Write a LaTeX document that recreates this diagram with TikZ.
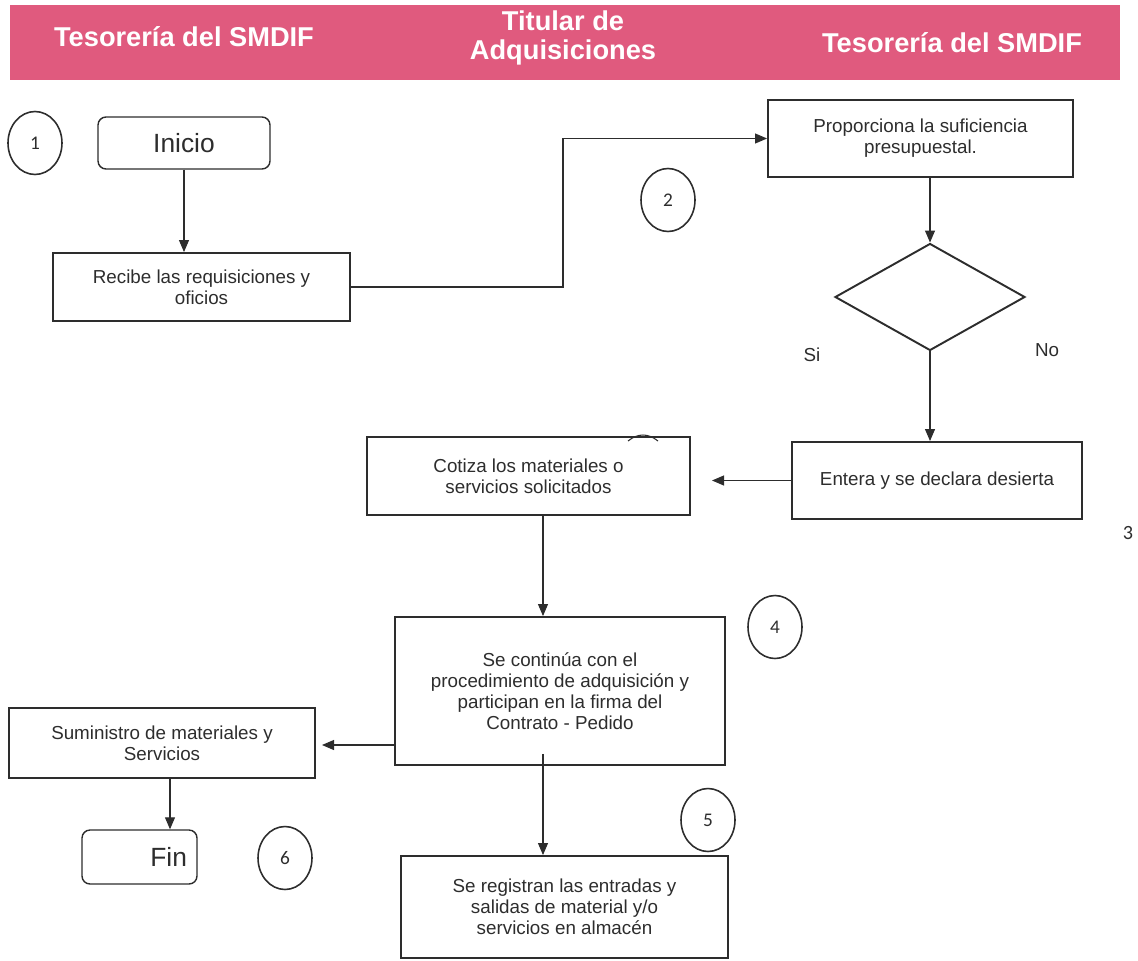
\documentclass[tikz,border=0pt]{standalone}
\usepackage{fontspec}
\setmainfont{Liberation Sans}
\newfontfamily\numfont{Carlito}
\usetikzlibrary{shapes.geometric,arrows.meta}
\definecolor{bandpink}{RGB}{224,90,126}
\definecolor{inkgray}{RGB}{45,45,45}

\begin{document}
\begin{tikzpicture}[x=0.02cm,y=-0.02cm,
		every node/.style={text=inkgray},
		box/.style={draw=inkgray,line width=1.1pt,align=center,inner sep=0pt,font=\fontsize{10.7}{12}\selectfont},
		roundbox/.style={box,rounded corners=0.16cm,line width=0.8pt,font=\fontsize{15}{18}\selectfont},
		stepnum/.style={draw=inkgray,ellipse,line width=0.9pt,minimum width=1.08cm,minimum height=1.26cm,inner sep=0pt,font=\numfont\fontsize{11}{13}\selectfont},
		lane/.style={text=white,font=\bfseries\fontsize{15.5}{17}\selectfont,align=center},
		flow/.style={draw=inkgray,line width=0.6pt,-{Triangle[length=0.24cm,width=0.2cm]}},
		plain/.style={draw=inkgray,line width=0.6pt}
	]
		\useasboundingbox (0,0) rectangle (1138,960);
		
		% franja de encabezado
		\fill [bandpink] (10,5) rectangle (1120,80);
		\node [lane] (lane1) at (184,37) {Tesorería del SMDIF};
		\node [lane] (lane2) at (563,38) {Titular de\\Adquisiciones};
		\node [lane] (lane3) at (952,43) {Tesorería del SMDIF};
		
		\node [roundbox, minimum width=3.44cm, minimum height=1.04cm] (inicio) at (184,143) {Inicio};
		\node [box, minimum width=5.94cm, minimum height=1.36cm] (recibe) at (201.5,287) {Recibe las requisiciones y\\oficios};
		\node [box, minimum width=6.1cm, minimum height=1.54cm] (proporciona) at (920.5,138.5) {Proporciona la suficiencia\\presupuestal.};
		\node [draw=inkgray, line width=1.1pt, diamond, inner sep=0pt, minimum width=3.8cm, minimum height=2.14cm] (decide) at (930,297) {};
		\node [box, minimum width=5.8cm, minimum height=1.54cm] (entera) at (937,480.5) {Entera y se declara desierta};
		\node [box, minimum width=6.46cm, minimum height=1.56cm] (cotiza) at (528.5,476) {Cotiza los materiales o\\servicios solicitados};
		\node [box, minimum width=6.6cm, minimum height=2.96cm] (contrato) at (560,691) {Se continúa con el\\procedimiento de adquisición y\\participan en la firma del\\Contrato - Pedido};
		\node [box, minimum width=6.12cm, minimum height=1.4cm] (suministro) at (162,743) {Suministro de materiales y\\Servicios};
		\node [roundbox, minimum height=1.08cm, text width=1.9cm, inner xsep=0.2cm, align=right] (fin) at (139.5,857) {Fin};
		\node [box, minimum width=6.54cm, minimum height=2.04cm] (registra) at (564.5,907) {Se registran las entradas y\\salidas de material y/o\\servicios en almacén};
		
		\node [font=\fontsize{10.7}{12}\selectfont] (si) at (812,355) {Si};
		\node [font=\fontsize{10.7}{12}\selectfont] (no) at (1047,350) {No};
		
		\node [stepnum] (paso1) at (35,143) {1};
		\node [stepnum] (paso2) at (668,200) {2};
		\node [font=\numfont\fontsize{11.5}{13}\selectfont] (paso3) at (1128,533) {3};
		\node [stepnum] (paso4) at (775,627) {4};
		\node [stepnum] (paso5) at (708,820) {5};
		\node [stepnum] (paso6) at (285,858) {6};
		
		\coordinate (codo) at (563,200);
		\coordinate (punta3) at (712,477);
		\coordinate (eje) at (543,600);
		\coordinate (punta4) at (322,745);
		\coordinate (baja) at (170,800);
		
		\draw [flow] (inicio.south) -- (inicio.south |- recibe.north);
		\draw [flow] (recibe.east) -- (recibe.east -| codo) |- (proporciona.west);
		\draw [flow] (decide.north |- proporciona.south) -- (decide.north);
		\draw [flow] (decide.south) -- (decide.south |- entera.north);
		\draw [flow] (entera.west) -- (entera.west -| punta3);
		\draw [flow] (cotiza.south -| eje) -- (contrato.north -| eje);
		\draw [flow] (contrato.west |- punta4) -- (punta4);
		\draw [flow] (suministro.south -| baja) -- (fin.north -| baja);
		\draw [flow] ([yshift=0.24cm]contrato.south -| eje) -- (registra.north -| eje);
		
		\draw [plain] (628,441) .. controls (638,433) and (648,433) .. (658,441);
\end{tikzpicture}
\end{document}
